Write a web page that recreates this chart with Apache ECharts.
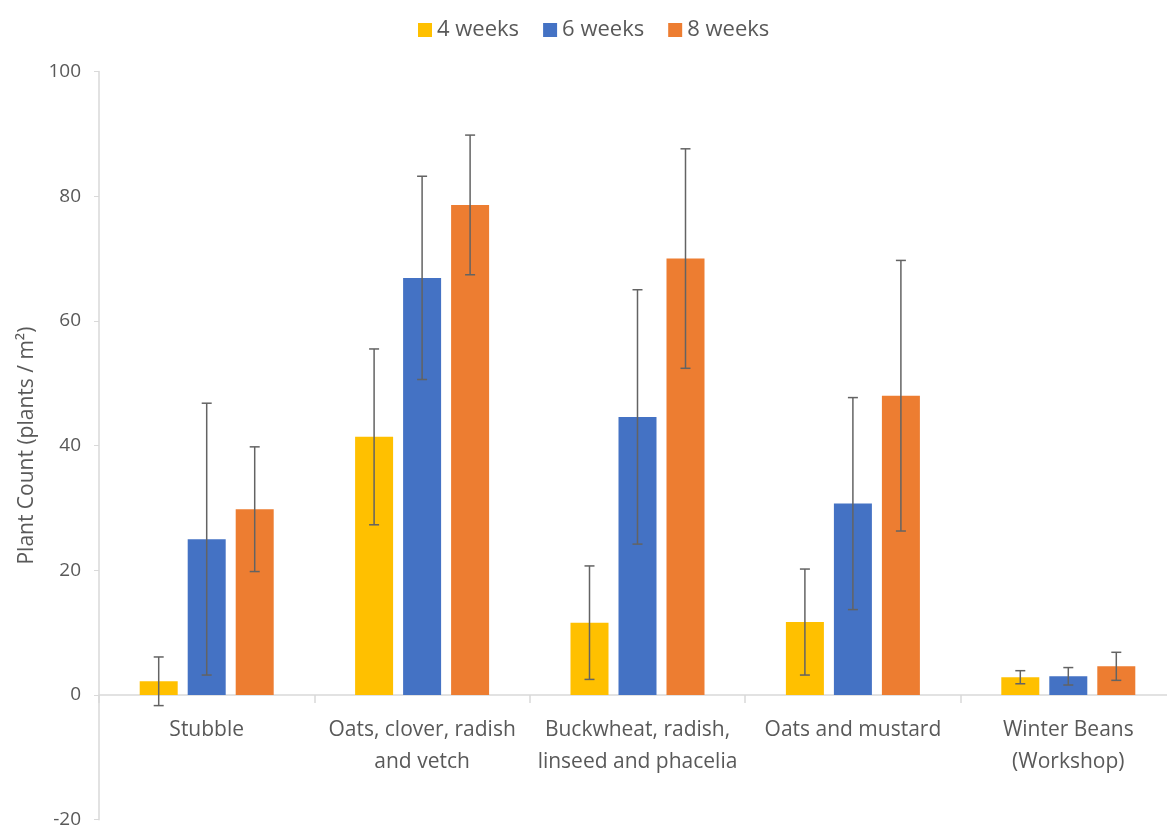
<!DOCTYPE html>
<html>
<head>
<meta charset="utf-8">
<script src="https://cdn.jsdelivr.net/npm/echarts@6/dist/echarts.min.js"></script>
<style>html,body{margin:0;padding:0;background:#fff}#c{width:1167px;height:825px}</style>
</head>
<body>
<div id="c"></div>
<script>
const categories = ['Stubble', 'Oats, clover, radish\nand vetch', 'Buckwheat, radish,\nlinseed and phacelia', 'Oats and mustard', 'Winter Beans\n(Workshop)'];
const seriesNames = ['4 weeks', '6 weeks', '8 weeks'];
const weeks4 = [2.2, 41.4, 11.6, 11.7, 2.85];
const weeks6 = [25.0, 66.9, 44.6, 30.7, 3.0];
const weeks8 = [29.8, 78.6, 70.0, 48.0, 4.6];
const err4 = [3.9, 14.1, 9.1, 8.5, 1.05];
const err6 = [21.8, 16.3, 20.4, 17.0, 1.4];
const err8 = [10.0, 11.2, 17.6, 21.7, 2.25];
const yTicks = [-20, 0, 20, 40, 60, 80, 100];

const colors = ['#FFC000', '#4472C4', '#ED7D31'];
const values = [weeks4, weeks6, weeks8];
const errs = [err4, err6, err8];
const BAR_W = 38, GAP = 10;
const FONT = 'Open Sans';
const GRID_TOP = 71.5, GRID_H = 748.2, Y_MIN = -20, Y_MAX = 100;
const zeroOffset = -GRID_H * (0 - Y_MIN) / (Y_MAX - Y_MIN);

const chart = echarts.init(document.getElementById('c'));
const series = [];
values.forEach((v, i) => {
  series.push({
    name: seriesNames[i], type: 'bar', data: v, barWidth: BAR_W, barGap: (GAP / BAR_W * 100) + '%',
    itemStyle: { color: colors[i] }, z: 2
  });
});
values.forEach((v, i) => {
  const off = (i - 1) * (BAR_W + GAP);
  series.push({
    type: 'custom', name: seriesNames[i] + ' err', z: 5, silent: true,
    data: v.map((m, k) => [k, m - errs[i][k], m + errs[i][k]]),
    renderItem: function (params, api) {
      const lo = api.coord([api.value(0), api.value(1)]);
      const hi = api.coord([api.value(0), api.value(2)]);
      const x = lo[0] + off;
      const cw = 5;
      const st = { stroke: '#636363', lineWidth: 1.5, fill: null };
      return { type: 'group', children: [
        { type: 'line', shape: { x1: x, y1: lo[1], x2: x, y2: hi[1] }, style: st },
        { type: 'line', shape: { x1: x - cw, y1: lo[1], x2: x + cw, y2: lo[1] }, style: st },
        { type: 'line', shape: { x1: x - cw, y1: hi[1], x2: x + cw, y2: hi[1] }, style: st }
      ]};
    }
  });
});

chart.setOption({
  animation: false,
  textStyle: { fontFamily: FONT },
  legend: {
    data: seriesNames, top: 14, left: 413, itemWidth: 14, itemHeight: 14, itemGap: 24,
    icon: 'rect',
    textStyle: { fontSize: 22, color: '#595959', fontFamily: FONT }
  },
  grid: { left: 99, top: GRID_TOP, width: 1077, height: GRID_H, outerBoundsMode: 'none', containLabel: false },
  xAxis: [{
    type: 'category', data: categories,
    axisLine: { onZero: true, lineStyle: { color: '#d9d9d9', width: 1.5 } },
    axisTick: { show: true, length: 8, lineStyle: { color: '#d9d9d9', width: 1.5 } },
    axisLabel: { show: false }
  }, {
    type: 'category', data: categories, position: 'bottom', offset: zeroOffset,
    axisLine: { show: false }, axisTick: { show: false },
    axisLabel: { color: '#595959', fontSize: 21, lineHeight: 32, margin: 19, fontFamily: FONT, interval: 0 }
  }],
  yAxis: {
    type: 'value', min: Y_MIN, max: Y_MAX, interval: 20,
    name: 'Plant Count (plants / m²)', nameLocation: 'middle', nameGap: 61, nameRotate: 90,
    nameTextStyle: { fontSize: 21, color: '#595959', fontFamily: FONT },
    axisLine: { show: true, lineStyle: { color: '#d9d9d9', width: 1.5 } },
    axisTick: { show: true, length: 5, lineStyle: { color: '#d9d9d9' } },
    splitLine: { show: false },
    axisLabel: { color: '#595959', fontSize: 19, margin: 18, fontFamily: FONT,
      customValues: yTicks }
  },
  series: series
});
</script>
</body>
</html>
